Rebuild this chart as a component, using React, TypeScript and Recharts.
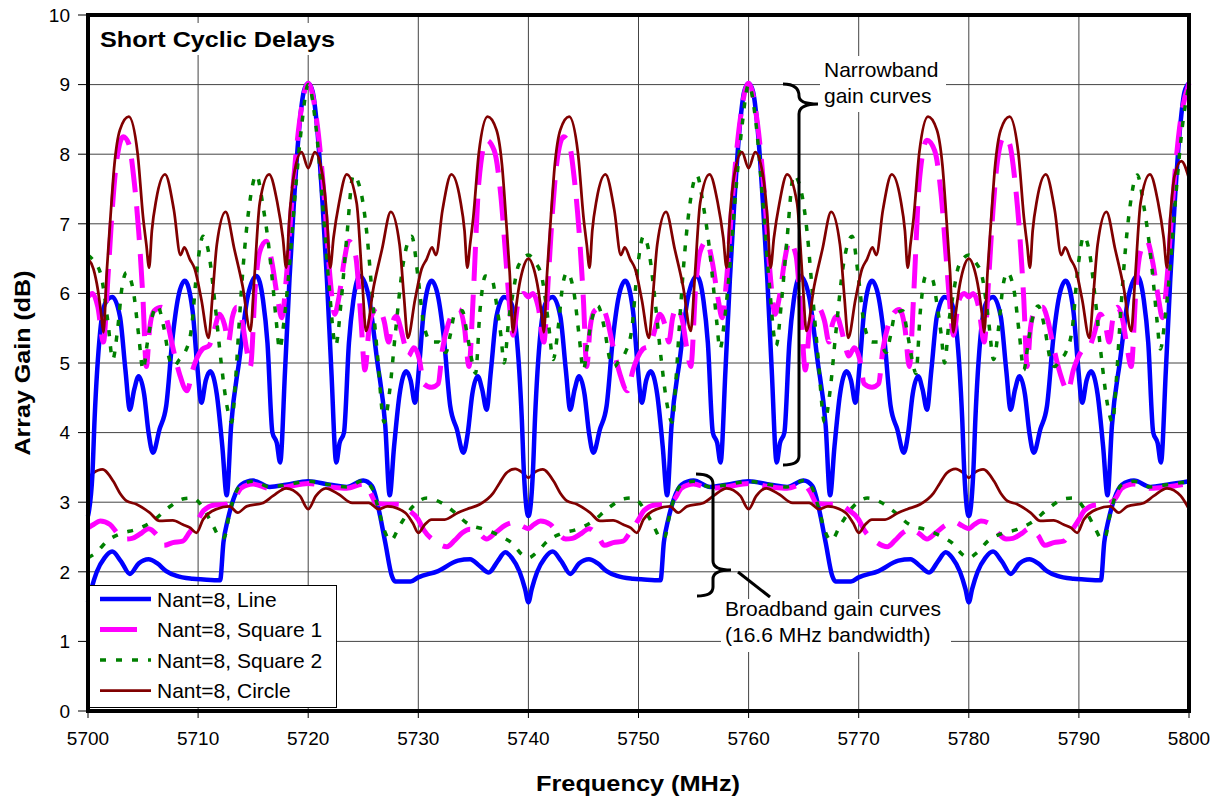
import React from 'react'
import { LineChart, Line, XAxis, YAxis, CartesianGrid } from 'recharts'

type Pt = [number, number] // [frequency MHz, gain dB]

const FONT = '"Liberation Sans", Arial, Helvetica, sans-serif'

const xTicks = [5700, 5710, 5720, 5730, 5740, 5750, 5760, 5770, 5780, 5790, 5800]
const yTicks = [0, 1, 2, 3, 4, 5, 6, 7, 8, 9, 10]

// narrowband gain curves
const nbLine: Pt[] = [
  [5700,2.8],[5700.4,3.4],[5700.6,4.2],[5701.1,5.44],[5701.6,5.87],[5702.2,5.95],[5702.9,5.67],[5703.4,4.9],[5703.8,4.33],[5704.2,4.62],[5704.6,4.81],[5705.1,4.55],[5705.5,4.0],[5705.9,3.71],[5706.5,4.05],[5707.1,4.38],[5707.7,5.39],[5708.2,5.95],[5708.8,6.18],[5709.5,5.75],[5709.9,5.0],[5710.3,4.43],[5710.7,4.75],[5711.1,4.88],[5711.7,4.55],[5712.2,3.8],[5712.6,3.1],[5713.0,4.1],[5713.75,5.05],[5714.5,5.95],[5715.3,6.25],[5715.9,5.9],[5716.3,5.29],[5716.75,4.0],[5717.15,3.85],[5717.45,3.57],[5717.9,4.9],[5718.3,6.2],[5718.7,7.3],[5719.2,8.4],[5719.6,8.9],[5720,9.02],
  [5720.4,8.9],[5720.8,8.4],[5721.3,7.3],[5721.7,6.2],[5722.1,4.9],[5722.55,3.57],[5722.85,3.85],[5723.25,4.0],[5723.7,5.29],[5724.1,5.9],[5724.7,6.25],[5725.5,5.95],[5726.25,5.05],[5727.0,4.1],[5727.4,3.1],[5727.8,3.8],[5728.3,4.55],[5728.9,4.88],[5729.3,4.75],[5729.7,4.43],[5730.1,5.0],[5730.5,5.75],[5731.2,6.18],[5731.8,5.95],[5732.3,5.39],[5732.9,4.38],[5733.5,4.05],[5734.1,3.71],[5734.5,4.0],[5734.9,4.55],[5735.4,4.81],[5735.8,4.62],[5736.2,4.33],[5736.6,4.9],[5737.1,5.67],[5737.8,5.95],[5738.4,5.87],[5738.9,5.44],[5739.4,4.2],[5739.6,3.4],[5740,2.8],
  [5740.4,3.4],[5740.6,4.2],[5741.1,5.44],[5741.6,5.87],[5742.2,5.95],[5742.9,5.67],[5743.4,4.9],[5743.8,4.33],[5744.2,4.62],[5744.6,4.81],[5745.1,4.55],[5745.5,4.0],[5745.9,3.71],[5746.5,4.05],[5747.1,4.38],[5747.7,5.39],[5748.2,5.95],[5748.8,6.18],[5749.5,5.75],[5749.9,5.0],[5750.3,4.43],[5750.7,4.75],[5751.1,4.88],[5751.7,4.55],[5752.2,3.8],[5752.6,3.1],[5753.0,4.1],[5753.75,5.05],[5754.5,5.95],[5755.3,6.25],[5755.9,5.9],[5756.3,5.29],[5756.75,4.0],[5757.15,3.85],[5757.45,3.57],[5757.9,4.9],[5758.3,6.2],[5758.7,7.3],[5759.2,8.4],[5759.6,8.9],[5760,9.02],
  [5760.4,8.9],[5760.8,8.4],[5761.3,7.3],[5761.7,6.2],[5762.1,4.9],[5762.55,3.57],[5762.85,3.85],[5763.25,4.0],[5763.7,5.29],[5764.1,5.9],[5764.7,6.25],[5765.5,5.95],[5766.25,5.05],[5767.0,4.1],[5767.4,3.1],[5767.8,3.8],[5768.3,4.55],[5768.9,4.88],[5769.3,4.75],[5769.7,4.43],[5770.1,5.0],[5770.5,5.75],[5771.2,6.18],[5771.8,5.95],[5772.3,5.39],[5772.9,4.38],[5773.5,4.05],[5774.1,3.71],[5774.5,4.0],[5774.9,4.55],[5775.4,4.81],[5775.8,4.62],[5776.2,4.33],[5776.6,4.9],[5777.1,5.67],[5777.8,5.95],[5778.4,5.87],[5778.9,5.44],[5779.4,4.2],[5779.6,3.4],[5780,2.8],
  [5780.4,3.4],[5780.6,4.2],[5781.1,5.44],[5781.6,5.87],[5782.2,5.95],[5782.9,5.67],[5783.4,4.9],[5783.8,4.33],[5784.2,4.62],[5784.6,4.81],[5785.1,4.55],[5785.5,4.0],[5785.9,3.71],[5786.5,4.05],[5787.1,4.38],[5787.7,5.39],[5788.2,5.95],[5788.8,6.18],[5789.5,5.75],[5789.9,5.0],[5790.3,4.43],[5790.7,4.75],[5791.1,4.88],[5791.7,4.55],[5792.2,3.8],[5792.6,3.1],[5793.0,4.1],[5793.75,5.05],[5794.5,5.95],[5795.3,6.25],[5795.9,5.9],[5796.3,5.29],[5796.75,4.0],[5797.15,3.85],[5797.45,3.57],[5797.9,4.9],[5798.3,6.2],[5798.7,7.3],[5799.2,8.4],[5799.6,8.9],[5800,9.02],
]

const nbSquare1: Pt[] = [
  [5700,5.95],[5700.4,6.0],[5700.9,5.8],[5701.4,5.3],[5701.8,6.2],[5702.2,7.2],[5702.6,7.9],[5703.2,8.25],[5703.7,8.15],[5704.2,7.6],[5704.6,6.9],[5705.0,5.9],[5705.3,4.95],[5705.6,5.5],[5706.0,5.75],[5706.7,5.8],[5707.2,5.6],[5707.6,5.3],[5708.3,4.85],[5709.0,4.6],[5709.5,4.9],[5710.4,5.2],[5711.0,5.25],[5711.35,5.4],[5711.95,5.7],[5712.4,5.55],[5712.75,5.3],[5713.1,5.65],[5713.5,5.8],[5714.0,5.6],[5714.4,5.2],[5714.75,4.95],[5715.2,6.1],[5715.6,6.6],[5716.2,6.75],[5716.7,6.45],[5717.2,5.95],[5717.6,5.65],[5718.0,6.2],[5718.5,7.3],[5719.2,8.45],[5720,9.02],
  [5720.8,8.45],[5721.5,7.3],[5722.0,6.2],[5722.4,5.7],[5722.8,5.95],[5723.3,6.5],[5723.7,6.75],[5724.3,6.55],[5724.8,5.6],[5725.15,4.9],[5725.6,5.6],[5726.3,5.8],[5726.9,5.6],[5727.3,5.3],[5727.6,5.55],[5728.0,5.67],[5728.4,5.5],[5728.7,5.3],[5729.1,5.1],[5729.6,5.22],[5730.1,5.05],[5730.5,4.7],[5731.2,4.65],[5731.8,4.7],[5732.2,5.2],[5732.7,5.55],[5733.2,5.72],[5733.7,5.77],[5734.2,5.5],[5734.6,4.95],[5735.0,6.0],[5735.5,7.6],[5736.2,8.2],[5736.9,8.05],[5737.5,7.4],[5738.0,6.4],[5738.3,5.8],[5738.6,5.4],[5739.1,5.9],[5739.6,6.0],[5740,5.95],
  [5740.4,6.0],[5740.9,5.8],[5741.4,5.3],[5741.8,6.2],[5742.2,7.2],[5742.6,7.9],[5743.2,8.25],[5743.7,8.15],[5744.2,7.6],[5744.6,6.9],[5745.0,5.9],[5745.3,4.95],[5745.6,5.5],[5746.0,5.75],[5746.7,5.8],[5747.2,5.6],[5747.6,5.3],[5748.3,4.85],[5749.0,4.6],[5749.5,4.9],[5750.4,5.2],[5751.0,5.25],[5751.35,5.4],[5751.95,5.7],[5752.4,5.55],[5752.75,5.3],[5753.1,5.65],[5753.5,5.8],[5754.0,5.6],[5754.4,5.2],[5754.75,4.95],[5755.2,6.1],[5755.6,6.6],[5756.2,6.75],[5756.7,6.45],[5757.2,5.95],[5757.6,5.65],[5758.0,6.2],[5758.5,7.3],[5759.2,8.45],[5760,9.02],
  [5760.8,8.45],[5761.5,7.3],[5762.0,6.2],[5762.4,5.7],[5762.8,5.95],[5763.3,6.5],[5763.7,6.75],[5764.3,6.55],[5764.8,5.6],[5765.15,4.9],[5765.6,5.6],[5766.3,5.8],[5766.9,5.6],[5767.3,5.3],[5767.6,5.55],[5768.0,5.67],[5768.4,5.5],[5768.7,5.3],[5769.1,5.1],[5769.6,5.22],[5770.1,5.05],[5770.5,4.7],[5771.2,4.65],[5771.8,4.7],[5772.2,5.2],[5772.7,5.55],[5773.2,5.72],[5773.7,5.77],[5774.2,5.5],[5774.6,4.95],[5775.0,6.0],[5775.5,7.6],[5776.2,8.2],[5776.9,8.05],[5777.5,7.4],[5778.0,6.4],[5778.3,5.8],[5778.6,5.4],[5779.1,5.9],[5779.6,6.0],[5780,5.95],
  [5780.4,6.0],[5780.9,5.8],[5781.4,5.3],[5781.8,6.2],[5782.2,7.2],[5782.6,7.9],[5783.2,8.25],[5783.7,8.15],[5784.2,7.6],[5784.6,6.9],[5785.0,5.9],[5785.3,4.95],[5785.6,5.5],[5786.0,5.75],[5786.7,5.8],[5787.2,5.6],[5787.6,5.3],[5788.3,4.85],[5789.0,4.6],[5789.5,4.9],[5790.4,5.2],[5791.0,5.25],[5791.35,5.4],[5791.95,5.7],[5792.4,5.55],[5792.75,5.3],[5793.1,5.65],[5793.5,5.8],[5794.0,5.6],[5794.4,5.2],[5794.75,4.95],[5795.2,6.1],[5795.6,6.6],[5796.2,6.75],[5796.7,6.45],[5797.2,5.95],[5797.6,5.65],[5798.0,6.2],[5798.5,7.3],[5799.2,8.45],[5800,9.02],
]

const nbSquare2: Pt[] = [
  [5700,6.55],[5700.6,6.45],[5701.2,6.25],[5701.8,5.6],[5702.25,5.05],[5702.7,5.5],[5703.1,6.1],[5703.5,6.3],[5704.1,6.05],[5704.6,5.4],[5705.0,4.9],[5705.4,5.3],[5705.8,5.65],[5706.3,5.82],[5706.9,5.5],[5707.4,5.05],[5707.8,4.95],[5708.3,5.05],[5708.8,5.15],[5709.4,5.5],[5709.9,6.35],[5710.45,6.82],[5711.0,6.55],[5711.5,5.9],[5712.1,5.0],[5712.6,4.4],[5713.05,4.15],[5713.4,4.75],[5713.7,5.5],[5714.1,6.4],[5714.6,7.2],[5715.3,7.7],[5715.9,7.25],[5716.4,6.7],[5716.8,6.1],[5717.1,5.6],[5717.4,5.2],[5717.8,5.6],[5718.3,6.4],[5718.8,7.4],[5719.4,8.4],[5720,9.0],
  [5720.7,8.4],[5721.3,7.3],[5721.9,6.1],[5722.5,5.25],[5723.0,5.9],[5723.5,6.8],[5724.1,7.7],[5724.8,7.45],[5725.3,6.9],[5725.8,6.0],[5726.3,5.1],[5726.9,4.15],[5727.4,4.6],[5727.9,5.4],[5728.6,6.4],[5729.4,6.82],[5730.0,6.2],[5730.5,5.55],[5731.2,5.3],[5731.9,5.3],[5732.5,5.15],[5732.9,5.4],[5733.3,5.7],[5734.0,5.75],[5734.4,5.45],[5734.85,5.05],[5735.2,4.85],[5735.6,5.75],[5736.1,6.25],[5736.7,6.2],[5737.1,5.85],[5737.5,5.4],[5737.8,5.0],[5738.2,5.6],[5738.6,6.0],[5739.1,6.4],[5740,6.55],
  [5740.6,6.45],[5741.2,6.25],[5741.8,5.6],[5742.25,5.05],[5742.7,5.5],[5743.1,6.1],[5743.5,6.3],[5744.1,6.05],[5744.6,5.4],[5745.0,4.9],[5745.4,5.3],[5745.8,5.65],[5746.3,5.82],[5746.9,5.5],[5747.4,5.05],[5747.8,4.95],[5748.3,5.05],[5748.8,5.15],[5749.4,5.5],[5749.9,6.35],[5750.45,6.82],[5751.0,6.55],[5751.5,5.9],[5752.1,5.0],[5752.6,4.4],[5753.05,4.15],[5753.4,4.75],[5753.7,5.5],[5754.1,6.4],[5754.6,7.2],[5755.3,7.7],[5755.9,7.25],[5756.4,6.7],[5756.8,6.1],[5757.1,5.6],[5757.4,5.2],[5757.8,5.6],[5758.3,6.4],[5758.8,7.4],[5759.4,8.4],[5760,9.0],
  [5760.7,8.4],[5761.3,7.3],[5761.9,6.1],[5762.5,5.25],[5763.0,5.9],[5763.5,6.8],[5764.1,7.7],[5764.8,7.45],[5765.3,6.9],[5765.8,6.0],[5766.3,5.1],[5766.9,4.15],[5767.4,4.6],[5767.9,5.4],[5768.6,6.4],[5769.4,6.82],[5770.0,6.2],[5770.5,5.55],[5771.2,5.3],[5771.9,5.3],[5772.5,5.15],[5772.9,5.4],[5773.3,5.7],[5774.0,5.75],[5774.4,5.45],[5774.85,5.05],[5775.2,4.85],[5775.6,5.75],[5776.1,6.25],[5776.7,6.2],[5777.1,5.85],[5777.5,5.4],[5777.8,5.0],[5778.2,5.6],[5778.6,6.0],[5779.1,6.4],[5780,6.55],
  [5780.6,6.45],[5781.2,6.25],[5781.8,5.6],[5782.25,5.05],[5782.7,5.5],[5783.1,6.1],[5783.5,6.3],[5784.1,6.05],[5784.6,5.4],[5785.0,4.9],[5785.4,5.3],[5785.8,5.65],[5786.3,5.82],[5786.9,5.5],[5787.4,5.05],[5787.8,4.95],[5788.3,5.05],[5788.8,5.15],[5789.4,5.5],[5789.9,6.35],[5790.45,6.82],[5791.0,6.55],[5791.5,5.9],[5792.1,5.0],[5792.6,4.4],[5793.05,4.15],[5793.4,4.75],[5793.7,5.5],[5794.1,6.4],[5794.6,7.2],[5795.3,7.7],[5795.9,7.25],[5796.4,6.7],[5796.8,6.1],[5797.1,5.6],[5797.4,5.2],[5797.8,5.6],[5798.3,6.4],[5798.8,7.4],[5799.4,8.4],[5800,9.0],
]

const nbCircle: Pt[] = [
  [5700,6.5],[5700.5,6.35],[5700.9,6.05],[5701.2,5.7],[5701.4,5.44],[5701.7,6.3],[5702.0,7.0],[5702.4,7.85],[5702.9,8.35],[5703.7,8.54],[5704.5,8.02],[5705.0,7.1],[5705.3,6.7],[5705.55,6.37],[5705.8,6.9],[5706.2,7.35],[5707.0,7.71],[5707.8,7.2],[5708.4,6.55],[5708.75,6.66],[5709.25,6.49],[5709.7,6.35],[5710.3,5.91],[5710.95,5.36],[5711.3,5.95],[5711.7,6.7],[5712.5,7.17],[5713.3,6.63],[5714.05,6.1],[5714.75,5.46],[5715.1,6.2],[5715.6,7.3],[5716.45,7.71],[5717.2,7.3],[5717.7,6.8],[5718.0,6.37],[5718.3,7.1],[5718.7,7.7],[5719.4,8.03],[5720,7.8],
  [5720.6,8.03],[5721.3,7.7],[5721.7,7.1],[5722.0,6.37],[5722.3,6.8],[5722.8,7.3],[5723.5,7.71],[5724.4,7.3],[5724.9,6.2],[5725.25,5.46],[5725.95,6.1],[5726.7,6.63],[5727.5,7.17],[5728.3,6.7],[5728.7,5.95],[5729.05,5.36],[5729.7,5.91],[5730.3,6.35],[5730.75,6.49],[5731.25,6.66],[5731.6,6.55],[5732.2,7.2],[5733.0,7.71],[5733.8,7.35],[5734.2,6.9],[5734.45,6.37],[5734.7,6.7],[5735.0,7.1],[5735.5,8.02],[5736.3,8.54],[5737.1,8.35],[5737.6,7.85],[5738.0,7.0],[5738.3,6.3],[5738.6,5.44],[5738.8,5.7],[5739.1,6.05],[5739.5,6.35],[5740,6.5],
  [5740.5,6.35],[5740.9,6.05],[5741.2,5.7],[5741.4,5.44],[5741.7,6.3],[5742.0,7.0],[5742.4,7.85],[5742.9,8.35],[5743.7,8.54],[5744.5,8.02],[5745.0,7.1],[5745.3,6.7],[5745.55,6.37],[5745.8,6.9],[5746.2,7.35],[5747.0,7.71],[5747.8,7.2],[5748.4,6.55],[5748.75,6.66],[5749.25,6.49],[5749.7,6.35],[5750.3,5.91],[5750.95,5.36],[5751.3,5.95],[5751.7,6.7],[5752.5,7.17],[5753.3,6.63],[5754.05,6.1],[5754.75,5.46],[5755.1,6.2],[5755.6,7.3],[5756.45,7.71],[5757.2,7.3],[5757.7,6.8],[5758.0,6.37],[5758.3,7.1],[5758.7,7.7],[5759.4,8.03],[5760,7.8],
  [5760.6,8.03],[5761.3,7.7],[5761.7,7.1],[5762.0,6.37],[5762.3,6.8],[5762.8,7.3],[5763.5,7.71],[5764.4,7.3],[5764.9,6.2],[5765.25,5.46],[5765.95,6.1],[5766.7,6.63],[5767.5,7.17],[5768.3,6.7],[5768.7,5.95],[5769.05,5.36],[5769.7,5.91],[5770.3,6.35],[5770.75,6.49],[5771.25,6.66],[5771.6,6.55],[5772.2,7.2],[5773.0,7.71],[5773.8,7.35],[5774.2,6.9],[5774.45,6.37],[5774.7,6.7],[5775.0,7.1],[5775.5,8.02],[5776.3,8.54],[5777.1,8.35],[5777.6,7.85],[5778.0,7.0],[5778.3,6.3],[5778.6,5.44],[5778.8,5.7],[5779.1,6.05],[5779.5,6.35],[5780,6.5],
  [5780.5,6.35],[5780.9,6.05],[5781.2,5.7],[5781.4,5.44],[5781.7,6.3],[5782.0,7.0],[5782.4,7.85],[5782.9,8.35],[5783.7,8.54],[5784.5,8.02],[5785.0,7.1],[5785.3,6.7],[5785.55,6.37],[5785.8,6.9],[5786.2,7.35],[5787.0,7.71],[5787.8,7.2],[5788.4,6.55],[5788.75,6.66],[5789.25,6.49],[5789.7,6.35],[5790.3,5.91],[5790.95,5.36],[5791.3,5.95],[5791.7,6.7],[5792.5,7.17],[5793.3,6.63],[5794.05,6.1],[5794.75,5.46],[5795.1,6.2],[5795.6,7.3],[5796.45,7.71],[5797.2,7.3],[5797.7,6.8],[5798.0,6.37],[5798.3,7.1],[5798.7,7.7],[5799.3,7.9],[5800,7.65],
]

// broadband gain curves (16.6 MHz bandwidth)
const bbLine: Pt[] = [
  [5700,1.56],[5700.3,1.75],[5700.8,2.0],[5701.5,2.2],[5702.2,2.29],[5703.0,2.15],[5703.8,1.97],[5704.6,2.12],[5705.5,2.18],[5706.3,2.12],[5707.1,2.01],[5708.05,1.94],[5709.5,1.9],[5710.5,1.89],[5712.0,1.88],[5712.3,2.42],[5712.7,2.75],[5713.2,3.04],[5713.9,3.25],[5715.0,3.31],[5716.5,3.22],[5718.0,3.25],[5720,3.3],[5722.0,3.25],[5723.5,3.22],[5725.0,3.31],[5725.8,3.23],[5726.4,2.9],[5727.0,2.42],[5727.6,1.94],[5727.9,1.86],[5729.3,1.86],[5730.0,1.92],[5731.8,2.01],[5733.6,2.16],[5734.7,2.18],[5735.6,2.08],[5736.4,1.99],[5737.2,2.15],[5737.9,2.28],[5738.5,2.2],[5739.2,2.0],[5739.7,1.75],[5740,1.56],
  [5740.3,1.75],[5740.8,2.0],[5741.5,2.2],[5742.2,2.29],[5743.0,2.15],[5743.8,1.97],[5744.6,2.12],[5745.5,2.18],[5746.3,2.12],[5747.1,2.01],[5748.05,1.94],[5749.5,1.9],[5750.5,1.89],[5752.0,1.88],[5752.3,2.42],[5752.7,2.75],[5753.2,3.04],[5753.9,3.25],[5755.0,3.31],[5756.5,3.22],[5758.0,3.25],[5760,3.3],[5762.0,3.25],[5763.5,3.22],[5765.0,3.31],[5765.8,3.23],[5766.4,2.9],[5767.0,2.42],[5767.6,1.94],[5767.9,1.86],[5769.3,1.86],[5770.0,1.92],[5771.8,2.01],[5773.6,2.16],[5774.7,2.18],[5775.6,2.08],[5776.4,1.99],[5777.2,2.15],[5777.9,2.28],[5778.5,2.2],[5779.2,2.0],[5779.7,1.75],[5780,1.56],
  [5780.3,1.75],[5780.8,2.0],[5781.5,2.2],[5782.2,2.29],[5783.0,2.15],[5783.8,1.97],[5784.6,2.12],[5785.5,2.18],[5786.3,2.12],[5787.1,2.01],[5788.05,1.94],[5789.5,1.9],[5790.5,1.89],[5792.0,1.88],[5792.3,2.42],[5792.7,2.75],[5793.2,3.04],[5793.9,3.25],[5795.0,3.31],[5796.5,3.22],[5798.0,3.25],[5800,3.3],
]

const bbSquare1: Pt[] = [
  [5700,2.63],[5700.5,2.68],[5701.1,2.73],[5702.0,2.68],[5702.7,2.55],[5703.4,2.47],[5704.0,2.48],[5704.8,2.55],[5705.5,2.62],[5706.3,2.52],[5706.9,2.38],[5707.7,2.42],[5708.6,2.44],[5709.2,2.56],[5710.0,2.75],[5710.5,2.88],[5711.5,2.96],[5712.5,2.97],[5713.3,3.05],[5713.9,3.2],[5715.0,3.26],[5716.5,3.2],[5718.0,3.22],[5720,3.27],[5722.0,3.22],[5723.5,3.2],[5725.0,3.26],[5725.6,3.15],[5726.2,2.98],[5727.2,2.97],[5728.2,2.97],[5729.0,2.9],[5730.0,2.75],[5730.5,2.6],[5731.5,2.44],[5732.6,2.36],[5733.3,2.45],[5734.0,2.56],[5734.7,2.61],[5735.5,2.55],[5736.2,2.47],[5737.0,2.56],[5737.9,2.67],[5738.8,2.71],[5739.4,2.66],[5740,2.62],
  [5740.5,2.68],[5741.1,2.73],[5742.0,2.68],[5742.7,2.55],[5743.4,2.47],[5744.0,2.48],[5744.8,2.55],[5745.5,2.62],[5746.3,2.52],[5746.9,2.38],[5747.7,2.42],[5748.6,2.44],[5749.2,2.56],[5750.0,2.75],[5750.5,2.88],[5751.5,2.96],[5752.5,2.97],[5753.3,3.05],[5753.9,3.2],[5755.0,3.26],[5756.5,3.2],[5758.0,3.22],[5760,3.27],[5762.0,3.22],[5763.5,3.2],[5765.0,3.26],[5765.6,3.15],[5766.2,2.98],[5767.2,2.97],[5768.2,2.97],[5769.0,2.9],[5770.0,2.75],[5770.5,2.6],[5771.5,2.44],[5772.6,2.36],[5773.3,2.45],[5774.0,2.56],[5774.7,2.61],[5775.5,2.55],[5776.2,2.47],[5777.0,2.56],[5777.9,2.67],[5778.8,2.71],[5779.4,2.66],[5780,2.62],
  [5780.5,2.68],[5781.1,2.73],[5782.0,2.68],[5782.7,2.55],[5783.4,2.47],[5784.0,2.48],[5784.8,2.55],[5785.5,2.62],[5786.3,2.52],[5786.9,2.38],[5787.7,2.42],[5788.6,2.44],[5789.2,2.56],[5790.0,2.75],[5790.5,2.88],[5791.5,2.96],[5792.5,2.97],[5793.3,3.05],[5793.9,3.2],[5795.0,3.26],[5796.5,3.2],[5798.0,3.22],[5800,3.27],
]

const bbSquare2: Pt[] = [
  [5700,2.2],[5700.7,2.27],[5701.8,2.45],[5703.0,2.55],[5704.4,2.61],[5705.8,2.72],[5707.3,2.92],[5708.7,3.05],[5709.5,3.06],[5710.6,2.88],[5711.4,2.65],[5712.1,2.47],[5712.4,2.5],[5712.8,2.8],[5713.2,3.04],[5713.9,3.25],[5715.0,3.3],[5716.5,3.22],[5718.0,3.25],[5720,3.3],[5722.0,3.25],[5723.5,3.22],[5725.0,3.31],[5725.8,3.2],[5726.3,2.95],[5726.9,2.6],[5727.5,2.45],[5728.3,2.66],[5729.4,2.92],[5730.8,3.06],[5732.0,3.0],[5733.1,2.88],[5734.6,2.68],[5736.2,2.6],[5737.6,2.5],[5738.6,2.4],[5739.4,2.25],[5740,2.2],
  [5740.7,2.27],[5741.8,2.45],[5743.0,2.55],[5744.4,2.61],[5745.8,2.72],[5747.3,2.92],[5748.7,3.05],[5749.5,3.06],[5750.6,2.88],[5751.4,2.65],[5752.1,2.47],[5752.4,2.5],[5752.8,2.8],[5753.2,3.04],[5753.9,3.25],[5755.0,3.3],[5756.5,3.22],[5758.0,3.25],[5760,3.3],[5762.0,3.25],[5763.5,3.22],[5765.0,3.31],[5765.8,3.2],[5766.3,2.95],[5766.9,2.6],[5767.5,2.45],[5768.3,2.66],[5769.4,2.92],[5770.8,3.06],[5772.0,3.0],[5773.1,2.88],[5774.6,2.68],[5776.2,2.6],[5777.6,2.5],[5778.6,2.4],[5779.4,2.25],[5780,2.2],
  [5780.7,2.27],[5781.8,2.45],[5783.0,2.55],[5784.4,2.61],[5785.8,2.72],[5787.3,2.92],[5788.7,3.05],[5789.5,3.06],[5790.6,2.88],[5791.4,2.65],[5792.1,2.47],[5792.4,2.5],[5792.8,2.8],[5793.2,3.04],[5793.9,3.25],[5795.0,3.3],[5796.5,3.22],[5798.0,3.25],[5800,3.3],
]

const bbCircle: Pt[] = [
  [5700,3.35],[5700.5,3.42],[5701.3,3.47],[5702.3,3.3],[5702.9,3.13],[5703.5,3.02],[5704.4,2.97],[5705.6,2.85],[5706.5,2.73],[5707.7,2.74],[5708.6,2.68],[5709.3,2.63],[5709.85,2.56],[5710.45,2.75],[5711.65,2.9],[5712.85,2.94],[5713.6,2.85],[5714.4,2.94],[5715.9,2.99],[5716.8,3.09],[5718.0,3.2],[5719.25,3.09],[5720,2.9],[5720.7,3.09],[5721.6,3.2],[5722.8,3.11],[5724.0,2.99],[5725.5,2.99],[5726.4,2.9],[5727.2,2.94],[5728.8,2.85],[5729.5,2.7],[5730.0,2.56],[5730.6,2.68],[5731.2,2.75],[5732.4,2.75],[5733.6,2.85],[5734.4,2.9],[5735.6,2.97],[5736.8,3.13],[5737.4,3.28],[5738.0,3.42],[5738.8,3.48],[5739.5,3.42],[5740,3.35],
  [5740.5,3.42],[5741.3,3.47],[5742.3,3.3],[5742.9,3.13],[5743.5,3.02],[5744.4,2.97],[5745.6,2.85],[5746.5,2.73],[5747.7,2.74],[5748.6,2.68],[5749.3,2.63],[5749.85,2.56],[5750.45,2.75],[5751.65,2.9],[5752.85,2.94],[5753.6,2.85],[5754.4,2.94],[5755.9,2.99],[5756.8,3.09],[5758.0,3.2],[5759.25,3.09],[5760,2.9],[5760.7,3.09],[5761.6,3.2],[5762.8,3.11],[5764.0,2.99],[5765.5,2.99],[5766.4,2.9],[5767.2,2.94],[5768.8,2.85],[5769.5,2.7],[5770.0,2.56],[5770.6,2.68],[5771.2,2.75],[5772.4,2.75],[5773.6,2.85],[5774.4,2.9],[5775.6,2.97],[5776.8,3.13],[5777.4,3.28],[5778.0,3.42],[5778.8,3.48],[5779.5,3.42],[5780,3.35],
  [5780.5,3.42],[5781.3,3.47],[5782.3,3.3],[5782.9,3.13],[5783.5,3.02],[5784.4,2.97],[5785.6,2.85],[5786.5,2.73],[5787.7,2.74],[5788.6,2.68],[5789.3,2.63],[5789.85,2.56],[5790.45,2.75],[5791.65,2.9],[5792.85,2.94],[5793.6,2.85],[5794.4,2.94],[5795.9,2.99],[5796.8,3.09],[5798.0,3.2],[5799.25,3.09],[5800,2.9],
]

const STYLES = {
  line: { name: 'Nant=8, Line', color: '#0000FF', width: 4.5, dash: undefined as string | undefined },
  square1: { name: 'Nant=8, Square 1', color: '#FF00FF', width: 5, dash: '34 14' },
  square2: { name: 'Nant=8, Square 2', color: '#008000', width: 3.5, dash: '6 10' },
  circle: { name: 'Nant=8, Circle', color: '#800000', width: 2.75, dash: undefined as string | undefined },
}

const SERIES = [
  { id: 'bbLine', pts: bbLine, style: STYLES.line },
  { id: 'bbSquare1', pts: bbSquare1, style: STYLES.square1 },
  { id: 'bbSquare2', pts: bbSquare2, style: STYLES.square2 },
  { id: 'bbCircle', pts: bbCircle, style: STYLES.circle },
  { id: 'nbLine', pts: nbLine, style: STYLES.line },
  { id: 'nbSquare1', pts: nbSquare1, style: STYLES.square1 },
  { id: 'nbSquare2', pts: nbSquare2, style: STYLES.square2 },
  { id: 'nbCircle', pts: nbCircle, style: STYLES.circle },
]

const toRows = (pts: Pt[]) => pts.map(([f, g]) => ({ f, g }))

// plot box in page pixels
const W = 1225
const H = 803
const PLOT = { left: 88, top: 15, right: 1189, bottom: 711 }

function Overlay() {
  const legendItems = [STYLES.line, STYLES.square1, STYLES.square2, STYLES.circle]
  return (
    <svg width={W} height={H} style={{ position: 'absolute', left: 0, top: 0, pointerEvents: 'none' }} fontFamily={FONT}>
      {/* plot frame */}
      <rect x={PLOT.left} y={PLOT.top} width={PLOT.right - PLOT.left} height={PLOT.bottom - PLOT.top} fill="none" stroke="#000" strokeWidth={4} />

      {/* title */}
      <rect x={96} y={23} width={244} height={32} fill="#fff" />
      <text x={100} y={47} fontSize={22} fontWeight="bold" textLength={235} lengthAdjust="spacingAndGlyphs">Short Cyclic Delays</text>

      {/* axis titles */}
      <text x={638} y={791} fontSize={22} fontWeight="bold" textAnchor="middle" textLength={204} lengthAdjust="spacingAndGlyphs">Frequency (MHz)</text>
      <text x={30} y={363} fontSize={22} fontWeight="bold" textAnchor="middle" transform="rotate(-90 30 363)" textLength={185} lengthAdjust="spacingAndGlyphs">Array Gain (dB)</text>

      {/* narrowband note */}
      <rect x={820} y={56} width={126} height={56} fill="#fff" />
      <text x={824} y={77} fontSize={21}>Narrowband</text>
      <text x={824} y={103} fontSize={21}>gain curves</text>
      <path d="M783,84 Q799,84 799,96 Q799,104 818,104 Q799,104 799,114 L799,456 Q799,465 783,465" fill="none" stroke="#000" strokeWidth={3} />

      {/* broadband note */}
      <rect x={721} y={599} width={230} height={53} fill="#fff" />
      <text x={725} y={616} fontSize={21}>Broadband gain curves</text>
      <text x={725} y={642} fontSize={21}>(16.6 MHz bandwidth)</text>
      <path d="M696,474 Q713,474 713,484 L713,561 Q713,570 731,570 Q713,570 713,579 L713,587 Q713,596 697,596" fill="none" stroke="#000" strokeWidth={3} />
      <line x1={738} y1={572} x2={770} y2={597} stroke="#000" strokeWidth={3} />

      {/* legend */}
      <rect x={89.5} y={585.5} width={247} height={122} fill="#fff" stroke="#000" strokeWidth={1} />
      {legendItems.map((s, i) => {
        const cy = 599 + i * 30.5
        return (
          <g key={s.name}>
            <line x1={100} y1={cy} x2={151} y2={cy} stroke={s.color} strokeWidth={s.width} strokeDasharray={s.dash === '34 14' ? '37 14' : s.dash} />
            <text x={157} y={cy + 7.5} fontSize={21}>{s.name}</text>
          </g>
        )
      })}
    </svg>
  )
}

export default function App() {
  return (
    <div style={{ position: 'absolute', left: 0, top: 0, width: W, height: H, background: '#fff', fontFamily: FONT }}>
      <LineChart width={W} height={H} margin={{ top: PLOT.top, right: W - PLOT.right, bottom: 0, left: 0 }}>
        <CartesianGrid stroke="#444" strokeWidth={1} />
        <XAxis
          type="number"
          dataKey="f"
          domain={[5700, 5800]}
          ticks={xTicks}
          interval={0}
          height={H - PLOT.bottom}
          axisLine={false}
          tickLine={{ stroke: '#000', strokeWidth: 1 }}
          tickSize={7}
          tickMargin={14}
          tick={{ fontSize: 19, fill: '#000', fontFamily: FONT }}
        />
        <YAxis
          type="number"
          domain={[0, 10]}
          ticks={yTicks}
          interval={0}
          width={PLOT.left}
          axisLine={false}
          tickLine={{ stroke: '#000', strokeWidth: 1 }}
          tickSize={10}
          tickMargin={8}
          tick={{ fontSize: 19, fill: '#000', fontFamily: FONT }}
        />
        {SERIES.map((s) => (
          <Line
            key={s.id}
            data={toRows(s.pts)}
            dataKey="g"
            type="monotone"
            stroke={s.style.color}
            strokeWidth={s.style.width}
            strokeDasharray={s.style.dash}
            dot={false}
            activeDot={false}
            isAnimationActive={false}
            legendType="none"
          />
        ))}
      </LineChart>
      <Overlay />
    </div>
  )
}
